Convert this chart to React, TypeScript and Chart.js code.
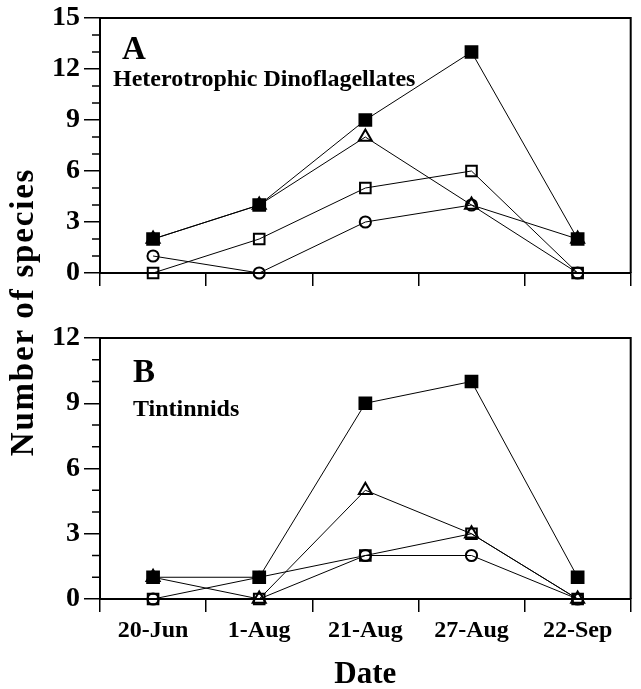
import React, { useEffect, useRef } from 'react';
import { Chart, registerables } from 'chart.js';

Chart.register(...registerables);

// ---------- data ----------
const dates = ['20-Jun', '1-Aug', '21-Aug', '27-Aug', '22-Sep'];

// Panel A: Heterotrophic Dinoflagellates
const dinoFilledSquare = [2, 4, 9, 13, 2];
const dinoOpenTriangle = [2, 4, 8, 4, 2];
const dinoOpenSquare = [0, 2, 5, 6, 0];
const dinoOpenCircle = [1, 0, 3, 4, 0];

// Panel B: Tintinnids
const tinFilledSquare = [1, 1, 9, 10, 1];
const tinOpenTriangle = [1, 0, 5, 3, 0];
const tinOpenSquare = [0, 0, 2, 3, 0];
const tinOpenCircle = [0, 1, 2, 2, 0];

const yTicksA = [0, 3, 6, 9, 12, 15];
const yTicksB = [0, 3, 6, 9, 12];

const panelLetterA = 'A';
const panelTitleA = 'Heterotrophic Dinoflagellates';
const panelLetterB = 'B';
const panelTitleB = 'Tintinnids';
const yTitle = 'Number of species';
const xTitle = 'Date';

const FONT = "'Liberation Serif', 'Times New Roman', serif";

function makeDatasets(filled: number[], tri: number[], sq: number[], circ: number[]) {
  const common = {
    borderColor: '#000',
    borderWidth: 1,
    pointBorderColor: '#000',
    pointBorderWidth: 2,
    tension: 0,
    fill: false,
    clip: false as const,
  };
  return [
    { ...common, label: 'filled square', data: filled, pointStyle: 'rect', pointRadius: 8.3, pointBackgroundColor: '#000' },
    { ...common, label: 'open triangle', data: tri, pointStyle: 'triangle', pointRadius: 7.5, pointBackgroundColor: 'rgba(0,0,0,0)' },
    { ...common, label: 'open square', data: sq, pointStyle: 'rect', pointRadius: 7.5, pointBackgroundColor: 'rgba(0,0,0,0)' },
    { ...common, label: 'open circle', data: circ, pointStyle: 'circle', pointRadius: 5.6, pointBackgroundColor: 'rgba(0,0,0,0)' },
  ];
}

const framePlugin = {
  id: 'frame',
  afterDraw(chart: any) {
    const { ctx, chartArea } = chart;
    const y = chart.scales.y;
    ctx.save();
    ctx.strokeStyle = '#000';
    // top and right border
    ctx.lineWidth = 2;
    ctx.beginPath();
    ctx.moveTo(chartArea.left, chartArea.top);
    ctx.lineTo(chartArea.right, chartArea.top);
    ctx.lineTo(chartArea.right, chartArea.bottom);
    ctx.stroke();
    // minor ticks on y axis (every 1 unit)
    ctx.lineWidth = 1.5;
    for (let v = y.min; v <= y.max; v += 1) {
      if (v % 3 === 0) continue;
      const py = y.getPixelForValue(v);
      ctx.beginPath();
      ctx.moveTo(chartArea.left - 8, py);
      ctx.lineTo(chartArea.left, py);
      ctx.stroke();
    }
    ctx.restore();
  },
};

function labelPlugin(letter: string, title: string, lx: number, ly: number, tx: number, ty: number) {
  return {
    id: 'panelLabel',
    afterDraw(chart: any) {
      const { ctx, chartArea } = chart;
      ctx.save();
      ctx.fillStyle = '#000';
      ctx.textAlign = 'left';
      ctx.textBaseline = 'alphabetic';
      ctx.font = `bold 33px ${FONT}`;
      ctx.fillText(letter, chartArea.left + lx, chartArea.top + ly);
      ctx.font = `bold 24px ${FONT}`;
      ctx.fillText(title, chartArea.left + tx, chartArea.top + ty);
      ctx.restore();
    },
  };
}

function makeConfig(opts: {
  datasets: any[];
  yTicks: number[];
  showXLabels: boolean;
  padTop: number;
  xHeight: number;
  plugin: any;
}) {
  const { datasets, yTicks, showXLabels, padTop, xHeight, plugin } = opts;
  return {
    type: 'line' as const,
    data: { labels: dates, datasets },
    options: {
      responsive: false,
      animation: false as const,
      layout: { padding: { top: padTop, right: 2, left: 0, bottom: 0 } },
      plugins: { legend: { display: false }, tooltip: { enabled: false } },
      scales: {
        x: {
          type: 'category' as const,
          offset: true,
          grid: { offset: true, drawOnChartArea: false, drawTicks: true, tickLength: 13, color: '#000', lineWidth: 1.5 },
          border: { color: '#000', width: 2 },
          ticks: {
            display: showXLabels,
            color: '#000',
            padding: 4,
            maxRotation: 0,
            font: { family: FONT, size: 24, weight: 'bold' as const },
          },
          title: {
            display: showXLabels,
            text: xTitle,
            color: '#000',
            padding: 0,
            font: { family: FONT, size: 31, weight: 'bold' as const, lineHeight: 0.9 },
          },
          afterFit: (s: any) => {
            s.height = xHeight;
          },
        },
        y: {
          min: yTicks[0],
          max: yTicks[yTicks.length - 1],
          ticks: {
            stepSize: yTicks[1] - yTicks[0],
            color: '#000',
            padding: 4,
            font: { family: FONT, size: 28, weight: 'bold' as const, lineHeight: 1 },
          },
          grid: { drawOnChartArea: false, drawTicks: true, tickLength: 16, color: '#000', lineWidth: 1.5 },
          border: { color: '#000', width: 2 },
          afterFit: (s: any) => {
            s.width = 100;
          },
        },
      },
    },
    plugins: [framePlugin, plugin],
  };
}

export default function App() {
  const refA = useRef<HTMLCanvasElement>(null);
  const refB = useRef<HTMLCanvasElement>(null);

  useEffect(() => {
    const chartA = new Chart(
      refA.current as HTMLCanvasElement,
      makeConfig({
        datasets: makeDatasets(dinoFilledSquare, dinoOpenTriangle, dinoOpenSquare, dinoOpenCircle),
        yTicks: yTicksA,
        showXLabels: false,
        padTop: 15,
        xHeight: 27,
        plugin: labelPlugin(panelLetterA, panelTitleA, 22, 41, 13, 68),
      }) as any
    );
    const chartB = new Chart(
      refB.current as HTMLCanvasElement,
      makeConfig({
        datasets: makeDatasets(tinFilledSquare, tinOpenTriangle, tinOpenSquare, tinOpenCircle),
        yTicks: yTicksB,
        showXLabels: true,
        padTop: 38,
        xHeight: 90,
        plugin: labelPlugin(panelLetterB, panelTitleB, 33, 44, 33, 78),
      }) as any
    );
    return () => {
      chartA.destroy();
      chartB.destroy();
    };
  }, []);

  return (
    <div style={{ position: 'absolute', left: 0, top: 0, width: 641, height: 689, background: '#fff', overflow: 'hidden' }}>
      <canvas ref={refA} width={641} height={300} style={{ position: 'absolute', left: 0, top: 0, width: 641, height: 300 }} />
      <canvas ref={refB} width={641} height={389} style={{ position: 'absolute', left: 0, top: 300, width: 641, height: 389 }} />
      <div
        style={{
          position: 'absolute',
          left: 21.5 - 200,
          top: 312 - 20,
          width: 400,
          height: 40,
          lineHeight: '40px',
          textAlign: 'center',
          transform: 'rotate(-90deg)',
          fontFamily: FONT,
          fontWeight: 'bold',
          fontSize: 33,
          letterSpacing: '1.8px',
          color: '#000',
          whiteSpace: 'nowrap',
        }}
      >
        {yTitle}
      </div>
    </div>
  );
}
